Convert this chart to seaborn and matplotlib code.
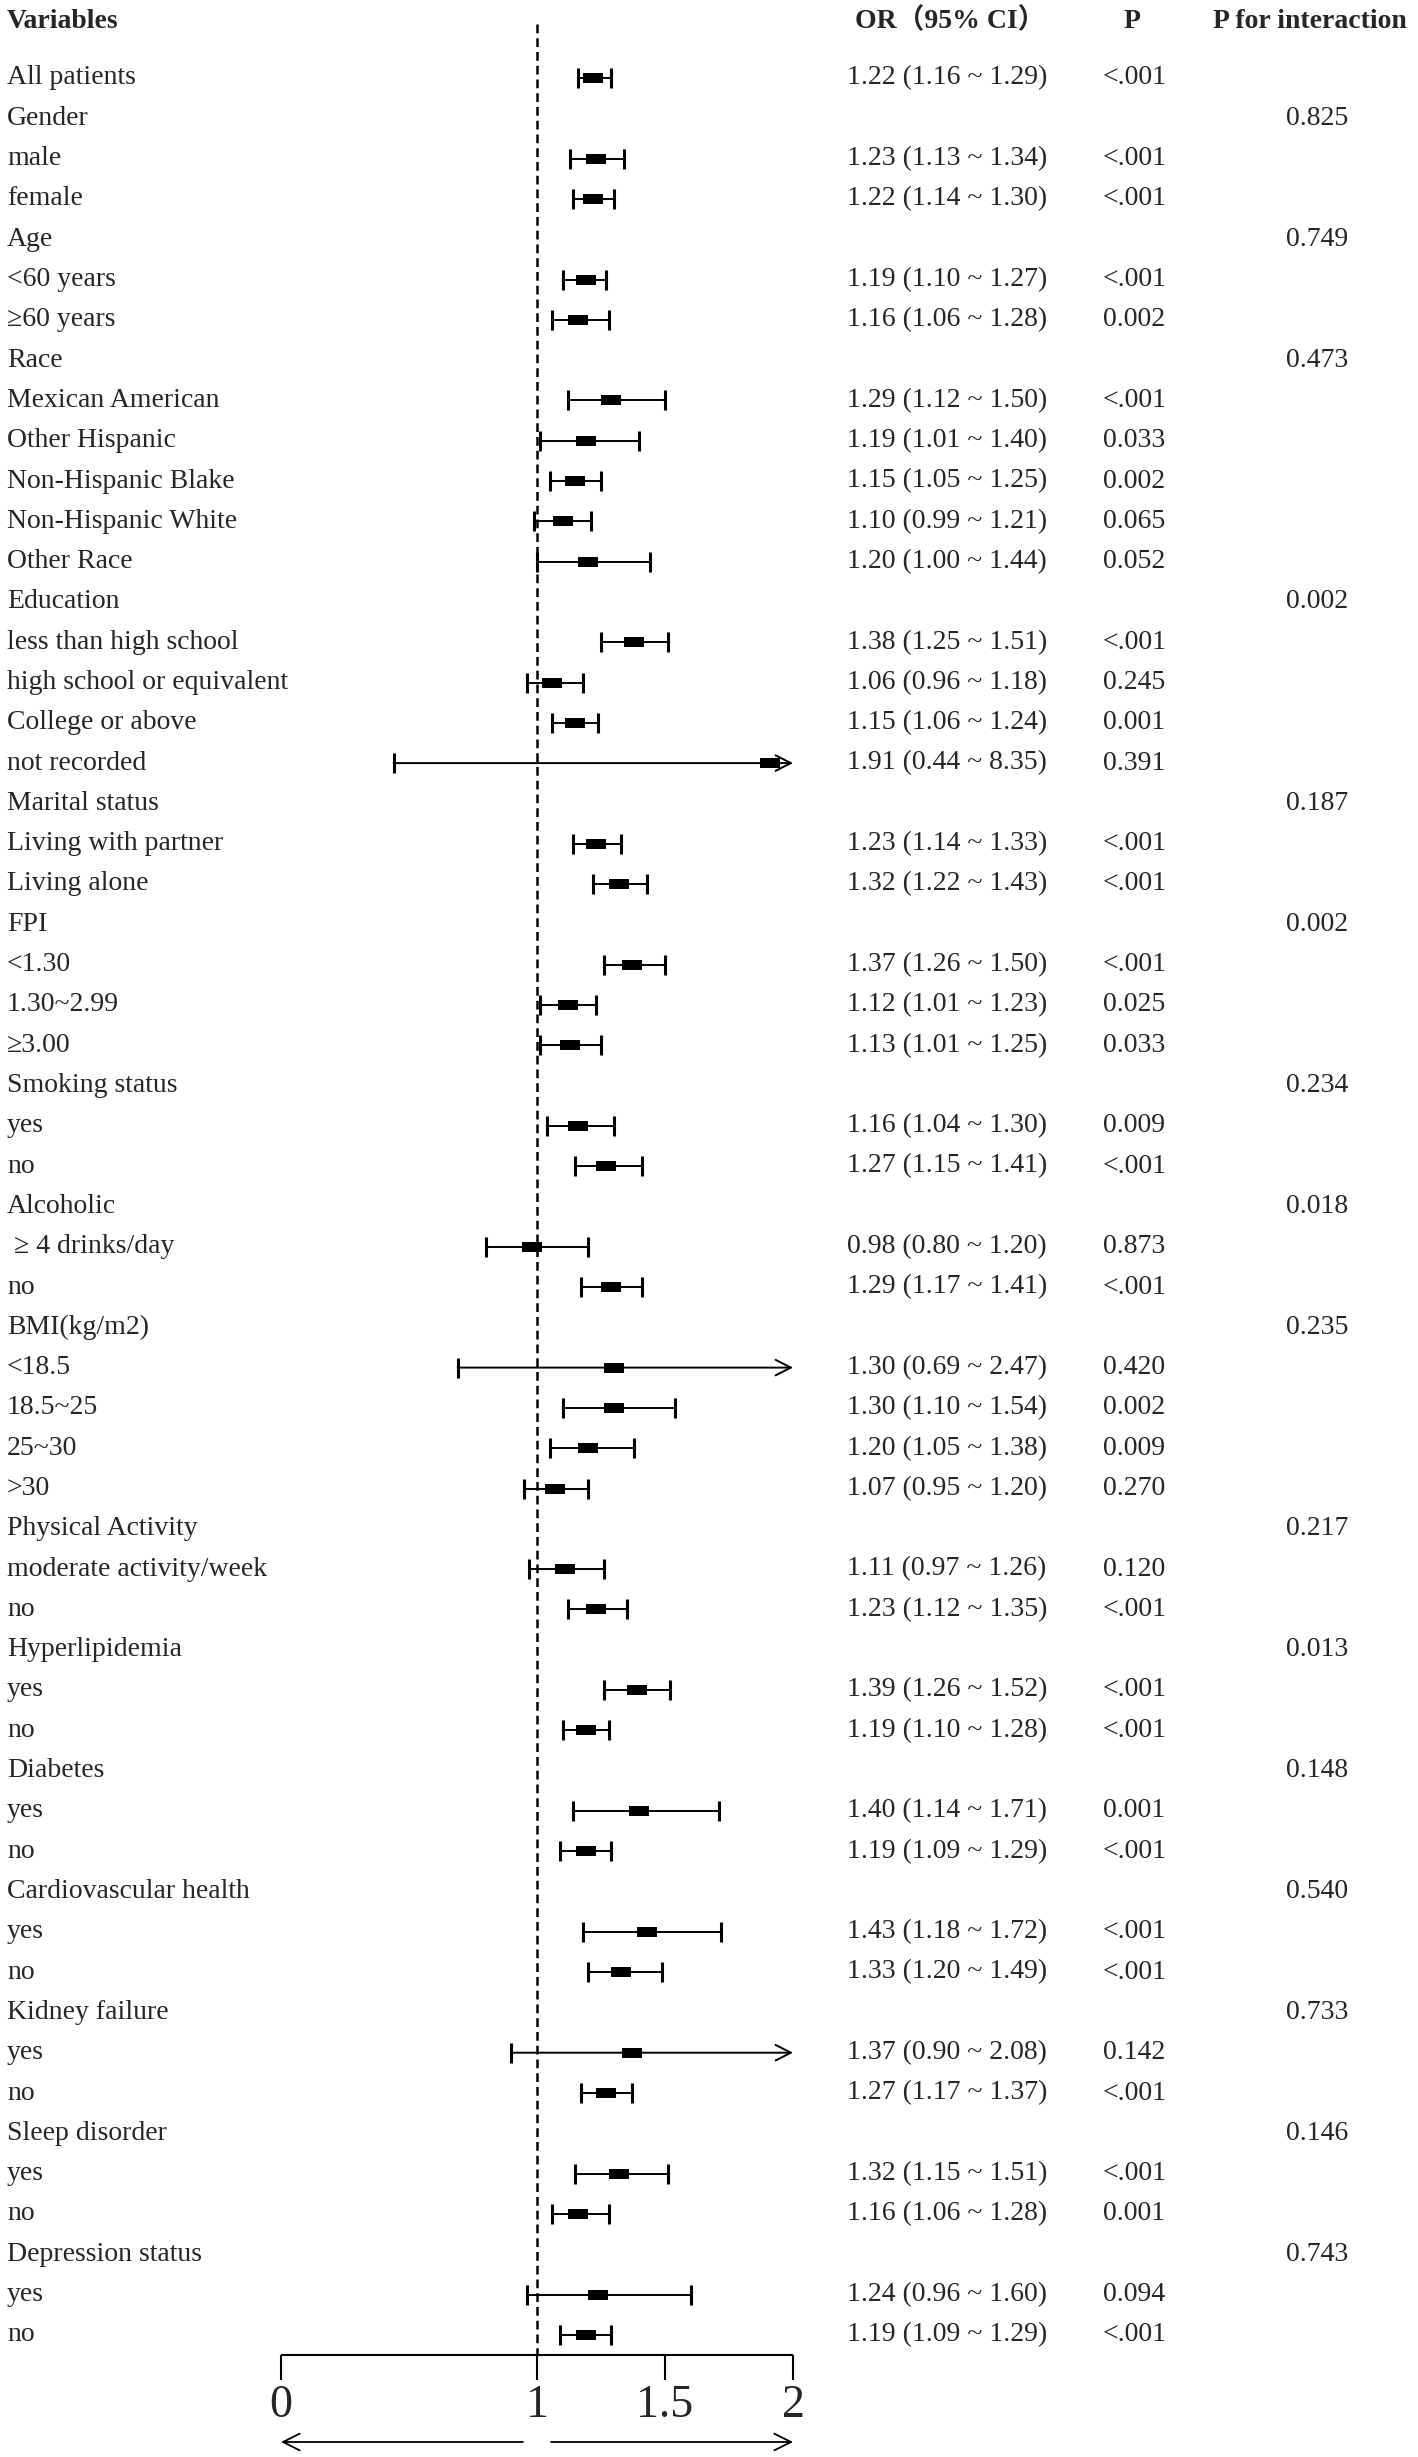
import numpy as np
import pandas as pd
import seaborn as sns
import matplotlib.pyplot as plt

# ---- data ----
labels = ["All patients", "Gender", "male", "female", "Age", "<60 years", "≥60 years",
          "Race", "Mexican American", "Other Hispanic", "Non-Hispanic Blake",
          "Non-Hispanic White", "Other Race", "Education", "less than high school",
          "high school or equivalent", "College or above", "not recorded",
          "Marital status", "Living with partner", "Living alone", "FPI", "<1.30",
          "1.30~2.99", "≥3.00", "Smoking status", "yes", "no", "Alcoholic",
          " ≥ 4 drinks/day", "no", "BMI(kg/m2)", "<18.5", "18.5~25", "25~30", ">30",
          "Physical Activity", "moderate activity/week", "no", "Hyperlipidemia", "yes",
          "no", "Diabetes", "yes", "no", "Cardiovascular health", "yes", "no",
          "Kidney failure", "yes", "no", "Sleep disorder", "yes", "no",
          "Depression status", "yes", "no"]
na = np.nan
or_vals = [1.22, na, 1.23, 1.22, na, 1.19, 1.16, na, 1.29, 1.19, 1.15, 1.10, 1.20,
           na, 1.38, 1.06, 1.15, 1.91, na, 1.23, 1.32, na, 1.37, 1.12, 1.13, na, 1.16,
           1.27, na, 0.98, 1.29, na, 1.30, 1.30, 1.20, 1.07, na, 1.11, 1.23, na, 1.39,
           1.19, na, 1.40, 1.19, na, 1.43, 1.33, na, 1.37, 1.27, na, 1.32, 1.16, na,
           1.24, 1.19]
ci_low = [1.16, na, 1.13, 1.14, na, 1.10, 1.06, na, 1.12, 1.01, 1.05, 0.99, 1.00,
          na, 1.25, 0.96, 1.06, 0.44, na, 1.14, 1.22, na, 1.26, 1.01, 1.01, na, 1.04,
          1.15, na, 0.80, 1.17, na, 0.69, 1.10, 1.05, 0.95, na, 0.97, 1.12, na, 1.26,
          1.10, na, 1.14, 1.09, na, 1.18, 1.20, na, 0.90, 1.17, na, 1.15, 1.06, na,
          0.96, 1.09]
ci_high = [1.29, na, 1.34, 1.30, na, 1.27, 1.28, na, 1.50, 1.40, 1.25, 1.21, 1.44,
           na, 1.51, 1.18, 1.24, 8.35, na, 1.33, 1.43, na, 1.50, 1.23, 1.25, na, 1.30,
           1.41, na, 1.20, 1.41, na, 2.47, 1.54, 1.38, 1.20, na, 1.26, 1.35, na, 1.52,
           1.28, na, 1.71, 1.29, na, 1.72, 1.49, na, 2.08, 1.37, na, 1.51, 1.28, na,
           1.60, 1.29]
p_vals = ["<.001", "", "<.001", "<.001", "", "<.001", "0.002", "", "<.001", "0.033",
          "0.002", "0.065", "0.052", "", "<.001", "0.245", "0.001", "0.391", "",
          "<.001", "<.001", "", "<.001", "0.025", "0.033", "", "0.009", "<.001", "",
          "0.873", "<.001", "", "0.420", "0.002", "0.009", "0.270", "", "0.120",
          "<.001", "", "<.001", "<.001", "", "0.001", "<.001", "", "<.001", "<.001",
          "", "0.142", "<.001", "", "<.001", "0.001", "", "0.094", "<.001"]
p_inter = ["", "0.825", "", "", "0.749", "", "", "0.473", "", "", "", "", "",
           "0.002", "", "", "", "", "0.187", "", "", "0.002", "", "", "", "0.234", "",
           "", "0.018", "", "", "0.235", "", "", "", "", "0.217", "", "", "0.013", "",
           "", "0.148", "", "", "0.540", "", "", "0.733", "", "", "0.146", "", "",
           "0.743", "", ""]
tick_vals = [0, 1, 1.5, 2]
tick_labels = ["0", "1", "1.5", "2"]

df = pd.DataFrame({"label": labels, "or": or_vals, "lo": ci_low, "hi": ci_high,
                   "p": p_vals, "pint": p_inter})
df["row"] = np.arange(len(df))

sns.set_style("white")
plt.rcParams["font.family"] = ["Liberation Serif", "Noto Sans CJK SC"]

W, H = 1418, 2457
fig = plt.figure(figsize=(W / 100, H / 100), dpi=100)
ax = fig.add_axes([0, 0, 1, 1])
ax.axis("off")

# pixel layout: x=0 at 281px, 1 unit = 256px ; first row at 78px, row step 40.3px
x0, ux = 281, 256
y0, uy = 78, 40.3
ax.set_xlim(-x0 / ux, (W - x0) / ux)
ax.set_ylim((H - y0) / uy, -y0 / uy)

fs = 20
tr = ax.get_yaxis_transform()

# header
hy = (21 - y0) / uy
ax.text(7 / W, hy, "Variables", transform=tr, fontsize=fs, fontweight="bold", va="center")
ax.text(950 / W, hy, "OR（95% CI）", transform=tr, fontsize=fs, fontweight="bold",
        va="center", ha="center")
ax.text(1132 / W, hy, "P", transform=tr, fontsize=fs, fontweight="bold",
        va="center", ha="center")
ax.text(1310 / W, hy, "P for interaction", transform=tr, fontsize=fs,
        fontweight="bold", va="center", ha="center")

axis_y = (2355 - y0) / uy

# reference line at OR = 1
ax.vlines(1, (24 - y0) / uy, axis_y, colors="black", lw=1.8,
          linestyles=(0, (3.5, 2)), zorder=1)

# table text
for _, r in df.iterrows():
    ax.text(7 / W, r["row"], r["label"], transform=tr, fontsize=fs, va="center")
    if not np.isnan(r["or"]):
        ax.text(847 / W, r["row"], f"{r['or']:.2f} ({r['lo']:.2f} ~ {r['hi']:.2f})",
                transform=tr, fontsize=fs, va="center")
    if r["p"]:
        ax.text(1103 / W, r["row"], r["p"], transform=tr, fontsize=fs, va="center")
    if r["pint"]:
        ax.text(1317 / W, r["row"], r["pint"], transform=tr, fontsize=fs,
                va="center", ha="center")

# confidence intervals
pts = df.dropna(subset=["or"])
inside = pts[pts["hi"] <= 2]
outside = pts[pts["hi"] > 2]
ax.errorbar(inside["or"], inside["row"],
            xerr=[inside["or"] - inside["lo"], inside["hi"] - inside["or"]],
            fmt="none", ecolor="black", elinewidth=1.4, capsize=7, capthick=2.2,
            zorder=2)
for _, r in outside.iterrows():
    ax.annotate("", xy=(2.0, r["row"]), xytext=(r["lo"], r["row"]),
                arrowprops=dict(arrowstyle="->,head_length=0.55,head_width=0.28",
                                lw=1.4, color="black", shrinkA=0, shrinkB=0,
                                mutation_scale=20), zorder=2)
    ax.plot([r["lo"]], [r["row"]], marker="|", ms=14, mew=2.2, color="black", zorder=2)

rect = [(-1.8, -1), (1.8, -1), (1.8, 1), (-1.8, 1), (-1.8, -1)]
sns.scatterplot(data=pts, x="or", y="row", marker=rect, s=190, color="black",
                edgecolor="black", linewidth=0, ax=ax, zorder=3, legend=False)

# bottom axis
ax.hlines(axis_y, 0, 2, colors="black", lw=1.5)
ax.vlines(tick_vals, axis_y, (2380 - y0) / uy, colors="black", lw=1.5)
for v, t in zip(tick_vals, tick_labels):
    ax.text(v, (2406 - y0) / uy, t, fontsize=33, ha="center", va="center")
arrow_y = (2442 - y0) / uy
for a, b in [(0.945, 0), (1.055, 2)]:
    ax.annotate("", xy=(b, arrow_y), xytext=(a, arrow_y),
                arrowprops=dict(arrowstyle="->,head_length=0.6,head_width=0.3",
                                lw=1.3, color="black", shrinkA=0, shrinkB=0,
                                mutation_scale=20))

ax.set_xlabel("")
ax.set_ylabel("")
fig.savefig("out.png", dpi=100)
